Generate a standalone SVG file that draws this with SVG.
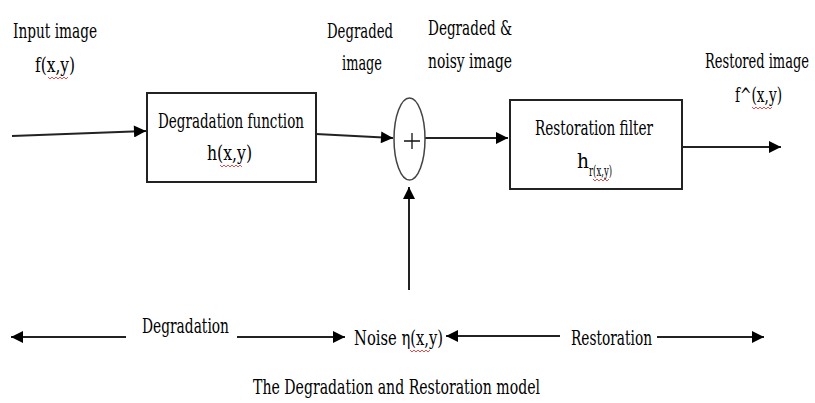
<svg xmlns="http://www.w3.org/2000/svg" width="815" height="403" viewBox="0 0 815 403">
<style>
.t{font-family:'DejaVu Serif',serif;font-size:21px;fill:#000}
.ln{stroke:#222;stroke-width:2;fill:none}
.box{fill:#fff;stroke:#222;stroke-width:2}
.sq{stroke:#e02020;stroke-width:0.8;fill:none}
</style>
<defs>
<marker id="ah" viewBox="0 0 10 10" refX="10" refY="5" markerWidth="6.5" markerHeight="6" markerUnits="strokeWidth" orient="auto">
<path d="M0,0 L10,5 L0,10 z" fill="#000"/>
</marker>
</defs>
<g id="connectors">
<line class="ln" x1="12" y1="136" x2="146" y2="131" marker-end="url(#ah)"/>
<line class="ln" x1="316" y1="134" x2="393" y2="138" marker-end="url(#ah)"/>
<line class="ln" x1="425" y1="138" x2="508" y2="138" marker-end="url(#ah)"/>
<line class="ln" x1="682" y1="147" x2="781" y2="147" marker-end="url(#ah)"/>
<line class="ln" x1="409" y1="290" x2="409" y2="187" marker-end="url(#ah)"/>
<line class="ln" x1="126" y1="337" x2="11" y2="337" marker-end="url(#ah)"/>
<line class="ln" x1="237" y1="337" x2="345" y2="337" marker-end="url(#ah)"/>
<line class="ln" x1="560" y1="336" x2="446" y2="336" marker-end="url(#ah)"/>
<line class="ln" x1="657" y1="337" x2="764" y2="337" marker-end="url(#ah)"/>
</g>
<g id="degradation-function" class="t">
<rect class="box" x="147" y="93" width="169" height="89"/>
<text x="158" y="128" textLength="146" lengthAdjust="spacingAndGlyphs">Degradation function</text>
<text x="207" y="160" textLength="45" lengthAdjust="spacingAndGlyphs">h(x,y)</text>
<path class="sq" d="M220,165 l2,2 l2,-2 l2,2 l2,-2 l2,2 l2,-2 l2,2 l2,-2 l2,2 l2,-2 l2,2"/>
</g>
<g id="adder">
<ellipse cx="409.5" cy="139" rx="15.5" ry="41" fill="#fff" stroke="#444" stroke-width="1.5"/>
<path d="M404,141 H420 M412,133 V149" stroke="#111" stroke-width="1.3"/>
</g>
<g id="restoration-filter" class="t">
<rect class="box" x="510" y="100" width="172" height="89"/>
<text x="535" y="135" textLength="118" lengthAdjust="spacingAndGlyphs">Restoration filter</text>
<text x="577" y="168" textLength="12" lengthAdjust="spacingAndGlyphs">h</text>
<text x="589" y="176" font-size="14" textLength="23" lengthAdjust="spacingAndGlyphs">r(x,y)</text>
<path class="sq" d="M593,179 l2,2 l2,-2 l2,2 l2,-2 l2,2 l2,-2 l2,2 l2,-2"/>
</g>
<g id="labels" class="t">
<text x="13" y="38" textLength="84" lengthAdjust="spacingAndGlyphs">Input image</text>
<text x="35" y="72" textLength="40" lengthAdjust="spacingAndGlyphs">f(x,y)</text>
<path class="sq" d="M48,77 l2,2 l2,-2 l2,2 l2,-2 l2,2 l2,-2 l2,2 l2,-2 l2,2 l2,-2"/>
<text x="327" y="38" textLength="66" lengthAdjust="spacingAndGlyphs">Degraded</text>
<text x="342" y="70" textLength="40" lengthAdjust="spacingAndGlyphs">image</text>
<text x="428" y="35" textLength="84" lengthAdjust="spacingAndGlyphs">Degraded &amp;</text>
<text x="428" y="68" textLength="84" lengthAdjust="spacingAndGlyphs">noisy image</text>
<text transform="translate(705,68) scale(0.55,1)" x="0" y="0" textLength="189" lengthAdjust="spacingAndGlyphs">Restored image</text>
<text x="735" y="102" textLength="47" lengthAdjust="spacingAndGlyphs">f^(x,y)</text>
<path class="sq" d="M752,107 l2,2 l2,-2 l2,2 l2,-2 l2,2 l2,-2 l2,2 l2,-2 l2,2 l2,-2"/>
<text x="142" y="333" textLength="87" lengthAdjust="spacingAndGlyphs">Degradation</text>
<text x="354" y="345" textLength="89" lengthAdjust="spacingAndGlyphs">Noise η(x,y)</text>
<path class="sq" d="M410,350 l2,2 l2,-2 l2,2 l2,-2 l2,2 l2,-2 l2,2 l2,-2 l2,2 l2,-2"/>
<text x="571" y="345" textLength="81" lengthAdjust="spacingAndGlyphs">Restoration</text>
<text x="253" y="394" textLength="287" lengthAdjust="spacingAndGlyphs">The Degradation and Restoration model</text>
</g>
</svg>
